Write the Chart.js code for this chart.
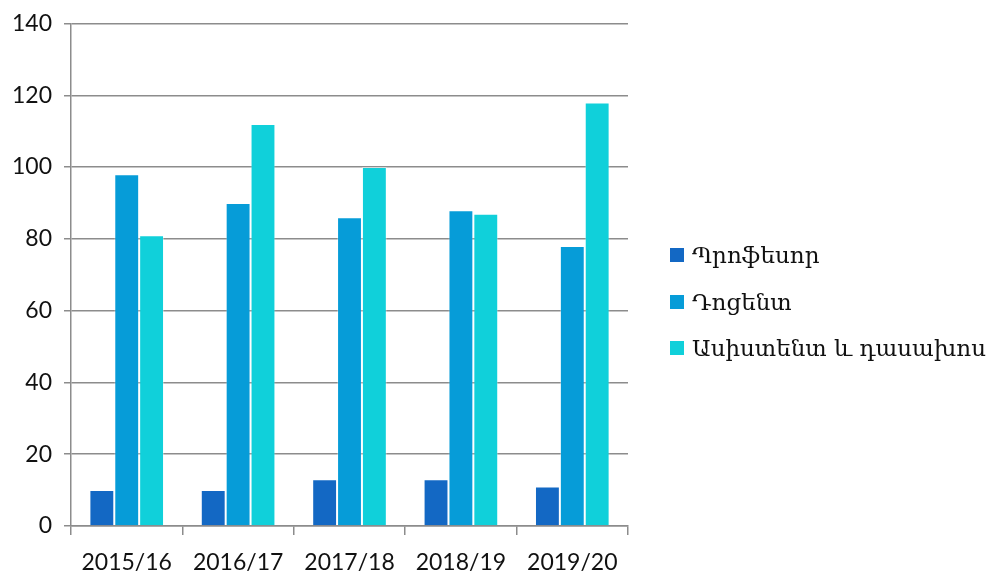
<!DOCTYPE html>
<html>
<head>
<meta charset="utf-8">
<script src="https://cdn.jsdelivr.net/npm/chart.js@4"></script>
<style>
  html, body { margin: 0; padding: 0; background: #fff; overflow: hidden; }
  #wrap { width: 992px; height: 590px; position: relative; }
  #legend { position: absolute; left: 670px; top: 232px; font-family: "DejaVu Serif", serif; font-size: 23px; color: #111; }
  #legend div { height: 46.5px; display: flex; align-items: center; white-space: nowrap; }
  #legend span.box { display: inline-block; width: 14px; height: 14px; margin-right: 8px; }
</style>
</head>
<body>
<div id="wrap"><canvas id="chart"></canvas><div id="legend"></div></div>
<script>
// categories + series
var years = ['2015/16', '2016/17', '2017/18', '2018/19', '2019/20'];
var seriesNames = ['Պրոֆեսոր', 'Դոցենտ', 'Ասիստենտ և դասախոս'];
var professors = [10, 10, 13, 13, 11];
var docents = [98, 90, 86, 88, 78];
var assistants = [81, 112, 100, 87, 118];
var colors = ['#1368C4', '#069CD8', '#10D0DA'];

var GRID = '#8c8c8c';
var AXIS_FONT = { family: 'Lato, "DejaVu Sans", sans-serif', size: 23, lineHeight: 1 };

function ds(label, data, c) {
  return {
    label: label, data: data,
    backgroundColor: c,
    borderColor: 'rgba(255,255,255,.35)',
    borderWidth: 1,
    barPercentage: 1,
    categoryPercentage: 0.67
  };
}

var chart = new Chart(document.getElementById('chart').getContext('2d'), {
  type: 'bar',
  data: {
    labels: years,
    datasets: [
      ds(seriesNames[0], professors, colors[0]),
      ds(seriesNames[1], docents, colors[1]),
      ds(seriesNames[2], assistants, colors[2])
    ]
  },
  options: {
    responsive: true,
    maintainAspectRatio: false,
    animation: false,
    layout: { padding: { left: 0, top: 1, right: 364, bottom: 0 } },
    plugins: {
      tooltip: { enabled: false },
      legend: { display: false }
    },
    scales: {
      x: {
        grid: { display: true, drawOnChartArea: false, drawTicks: true, tickLength: 9, color: GRID, lineWidth: 1.5, offset: true },
        border: { display: true, color: GRID, width: 1.5 },
        ticks: { color: '#111', font: AXIS_FONT, padding: 16 }
      },
      y: {
        min: 0, max: 140,
        grid: { color: GRID, lineWidth: 1.5, tickLength: 7 },
        border: { display: true, color: GRID, width: 1.5 },
        ticks: { stepSize: 20, color: '#111', font: AXIS_FONT, padding: 12 }
      }
    }
  }
});

// legend from the datasets
var legend = document.getElementById('legend');
chart.data.datasets.forEach(function(d) {
  var row = document.createElement('div');
  row.innerHTML = '<span class="box" style="background:' + d.backgroundColor + '"></span>' + d.label;
  legend.appendChild(row);
});
</script>
</body>
</html>
